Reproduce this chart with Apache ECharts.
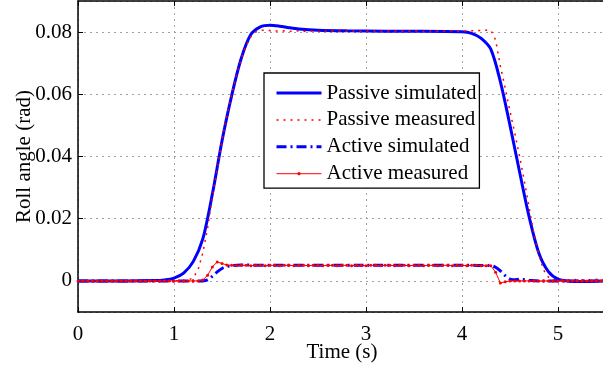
<!DOCTYPE html>
<html><head><meta charset="utf-8">
<script src="https://cdn.jsdelivr.net/npm/echarts@6/dist/echarts.min.js"></script>
<style>html,body{margin:0;padding:0;background:#fff}#c{width:603px;height:368px}</style>
</head><body><div id="c"></div>
<script>
// Tick labels
const xTicks = [0, 1, 2, 3, 4, 5];
const yTicks = [0, 0.02, 0.04, 0.06, 0.08];
const seriesNames = ['Passive simulated', 'Passive measured', 'Active simulated', 'Active measured'];

// Passive simulated (time, value)
const tPassiveSim = [0, 0.5, 0.8, 0.9, 1.0, 1.1, 1.2, 1.3, 1.4, 1.5, 1.6, 1.7, 1.8, 1.9, 2.0, 2.1, 2.2, 2.3, 2.5, 2.8, 3.2, 3.6, 4.0, 4.1, 4.2, 4.3, 4.4, 4.5, 4.6, 4.7, 4.8, 4.9, 5.0, 5.1, 5.2, 5.5];
const vPassiveSim = [0, 0, 0.0001, 0.0003, 0.0009, 0.0025, 0.0062, 0.0135, 0.028, 0.045, 0.0595, 0.0715, 0.0792, 0.0817, 0.0822, 0.0819, 0.0814, 0.0810, 0.0806, 0.0804, 0.0803, 0.0803, 0.0801, 0.0796, 0.0780, 0.0745, 0.0640, 0.0500, 0.0350, 0.0205, 0.0090, 0.0030, 0.0006, 0.0000, -0.0002, 0];

// Active simulated (time, value)
const tActiveSim = [0, 1.3, 1.35, 1.4, 1.45, 1.5, 1.55, 1.6, 1.7, 2.0, 3.0, 4.0, 4.3, 4.35, 4.4, 4.45, 4.5, 4.55, 4.6, 4.7, 4.8, 5.5];
const vActiveSim = [0, 0, 0.0003, 0.0015, 0.0029, 0.0040, 0.0046, 0.0049, 0.0051, 0.0050, 0.0050, 0.0050, 0.0049, 0.0044, 0.0032, 0.0017, 0.0006, 0.0004, 0.0005, 0.0002, 0, 0];

// Measured series sampled every 0.05 s from 0 to 5.5 s
const measStart = 0, measStep = 0.05;
const vPassiveMeas = [
  0, 0.0001, 0, -0.0001, 0, 0.0001, 0, 0, 0.0001, 0,
  -0.0001, 0, 0, 0.0001, 0, 0, -0.0001, 0, 0.0001, 0,
  0, 0.0001, 0.0001, 0.0003, 0.001, 0.0035, 0.009, 0.017, 0.027, 0.036,
  0.045, 0.053, 0.060, 0.066, 0.0715, 0.0755, 0.0785, 0.0800, 0.0806, 0.0806,
  0.0805, 0.0804, 0.0803, 0.0804, 0.0802, 0.0803, 0.0804, 0.0802, 0.0803, 0.0804,
  0.0803, 0.0802, 0.0803, 0.0804, 0.0803, 0.0802, 0.0803, 0.0804, 0.0803, 0.0802,
  0.0803, 0.0804, 0.0803, 0.0802, 0.0803, 0.0804, 0.0803, 0.0802, 0.0803, 0.0803,
  0.0804, 0.0803, 0.0802, 0.0803, 0.0804, 0.0803, 0.0802, 0.0803, 0.0804, 0.0803,
  0.0803, 0.0804, 0.0804, 0.0805, 0.0805, 0.0806, 0.0806, 0.0775, 0.0690, 0.0620,
  0.0545, 0.0475, 0.0400, 0.0320, 0.0235, 0.0150, 0.0085, 0.0035, 0.0012, 0.0004,
  0.0002, 0.0004, 0.0003, 0.0005, 0.0003, 0.0004, 0.0003, 0.0004, 0.0005, 0.0003,
  0.0004
];
const vActiveMeas = [
  0, 0, 0, 0, 0, 0, 0, 0, 0, 0,
  0, 0, 0, 0, 0, 0, 0, 0, 0, 0,
  0, 0, 0, 0, 0, 0, 0.0003, 0.0018, 0.0045, 0.0061,
  0.0056, 0.0051, 0.0050, 0.0049, 0.0050, 0.0050, 0.0049, 0.0050, 0.0050, 0.0049,
  0.0050, 0.0050, 0.0049, 0.0050, 0.0050, 0.0049, 0.0050, 0.0050, 0.0049, 0.0050,
  0.0050, 0.0049, 0.0050, 0.0050, 0.0049, 0.0050, 0.0050, 0.0049, 0.0050, 0.0050,
  0.0049, 0.0050, 0.0050, 0.0049, 0.0050, 0.0050, 0.0049, 0.0050, 0.0050, 0.0049,
  0.0050, 0.0050, 0.0049, 0.0050, 0.0050, 0.0049, 0.0050, 0.0050, 0.0049, 0.0050,
  0.0050, 0.0049, 0.0050, 0.0050, 0.0049, 0.0049, 0.0049, 0.0028, -0.0007, -0.0003,
  0, 0, 0, 0, 0, 0, 0, 0, 0, 0,
  0, 0, 0, 0, 0, 0, 0, 0, 0, 0,
  0
];

function pairs(ts, vs) { return vs.map((v, i) => [ts[i], v]); }
function sampled(vs) { return vs.map((v, i) => [+(measStart + i * measStep).toFixed(2), v]); }

const FONT = 'Liberation Serif';
const FS = 21;
const chart = echarts.init(document.getElementById('c'), null, { renderer: 'canvas' });
const gridLine = { show: true, lineStyle: { color: '#a0a0a0', width: 1, type: [2, 4] } };
chart.setOption({
  animation: false,
  backgroundColor: '#fff',
  grid: { left: 78, top: 1, right: -3, bottom: 56, containLabel: false, outerBoundsMode: 'none' },
  legend: {
    orient: 'vertical', left: 264, top: 73,
    itemWidth: 45, itemHeight: 4, itemGap: 5.9,
    padding: [9.5, 3, 4, 11],
    borderColor: '#000', borderWidth: 1.3, backgroundColor: '#fff',
    textStyle: { fontFamily: FONT, fontSize: FS, color: '#000' },
    data: [
      { name: seriesNames[0], itemStyle: { opacity: 0 }, lineStyle: { width: 3 } },
      { name: seriesNames[1], itemStyle: { opacity: 0 }, lineStyle: { width: 1.5 } },
      { name: seriesNames[2], itemStyle: { opacity: 0 }, lineStyle: { width: 3 } },
      { name: seriesNames[3], lineStyle: { width: 1 } }
    ]
  },
  xAxis: [{
    type: 'value', min: 0, max: 5.5, interval: 1, position: 'bottom',
    axisLine: { show: true, onZero: false, lineStyle: { color: '#000', width: 1.5 } },
    axisTick: { show: true, inside: true, length: 5, lineStyle: { color: '#000' } },
    axisLabel: { fontFamily: FONT, fontSize: FS, color: '#000', margin: 12, showMaxLabel: false,
      formatter: v => (xTicks.indexOf(v) >= 0 ? String(v) : '') },
    splitLine: gridLine,
    name: 'Time (s)', nameLocation: 'middle', nameGap: 30, nameMoveOverlap: false,
    nameTextStyle: { fontFamily: FONT, fontSize: FS, color: '#000' }
  }, {
    type: 'value', min: 0, max: 5.5, interval: 1, position: 'top',
    axisLine: { show: true, onZero: false, lineStyle: { color: '#000', width: 1.5 } },
    axisTick: { show: true, inside: true, length: 5, lineStyle: { color: '#000' } },
    axisLabel: { show: false }, splitLine: { show: false }
  }],
  yAxis: {
    type: 'value', min: -0.01, max: 0.09, splitNumber: 5,
    axisLine: { show: true, onZero: false, lineStyle: { color: '#000', width: 1.5 } },
    axisTick: { show: true, inside: true, length: 5, lineStyle: { color: '#000' } },
    axisLabel: { fontFamily: FONT, fontSize: FS, color: '#000', margin: 6, showMinLabel: false, showMaxLabel: false,
      formatter: v => { const k = yTicks.findIndex(t => Math.abs(t - v) < 1e-9); return k >= 0 ? String(yTicks[k]) : ''; } },
    splitLine: gridLine,
    name: 'Roll angle (rad)', nameLocation: 'middle', nameGap: 43, nameMoveOverlap: false,
    nameTextStyle: { fontFamily: FONT, fontSize: FS, color: '#000' }
  },
  series: [{
    name: seriesNames[0], type: 'line', data: pairs(tPassiveSim, vPassiveSim),
    symbol: 'none', smooth: 0.3, lineStyle: { color: '#0000ff', width: 3 }, itemStyle: { color: '#0000ff' }
  }, {
    name: seriesNames[1], type: 'line', data: sampled(vPassiveMeas),
    symbol: 'none', lineStyle: { color: '#ff0000', width: 1.5, type: [2, 5] }, itemStyle: { color: '#ff0000' }
  }, {
    name: seriesNames[2], type: 'line', data: pairs(tActiveSim, vActiveSim),
    symbol: 'none', smooth: 0.3, lineStyle: { color: '#0000ff', width: 3, type: [10, 4, 2, 4] }, itemStyle: { color: '#0000ff' }
  }, {
    name: seriesNames[3], type: 'line', data: sampled(vActiveMeas),
    symbol: 'circle', symbolSize: 3, lineStyle: { color: '#ff0000', width: 1 }, itemStyle: { color: '#ff0000' }
  }]
});
</script></body></html>
